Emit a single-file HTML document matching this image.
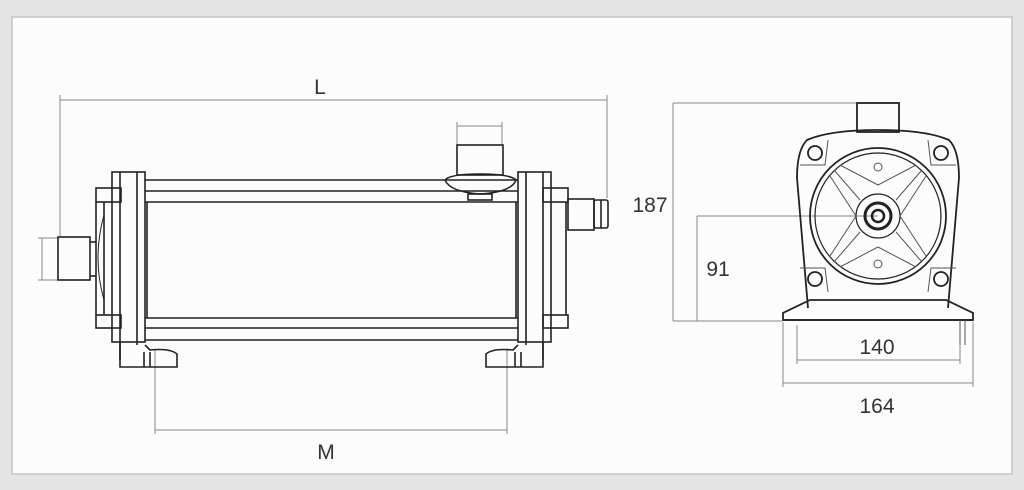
<!DOCTYPE html>
<html><head><meta charset="utf-8"><style>
html,body{margin:0;padding:0;background:#e4e4e4;}
svg{display:block}
text{font-family:"Liberation Sans",sans-serif;fill:#333;font-size:21px}
</style></head><body>
<svg width="1024" height="490" viewBox="0 0 1024 490" xmlns="http://www.w3.org/2000/svg">
<rect x="0" y="0" width="1024" height="490" fill="#e4e4e4"/>
<rect x="12" y="17" width="1000" height="457" fill="#fcfcfc" stroke="#c4c4c4" stroke-width="1.5"/>

<!-- dimension lines (thin) -->
<g stroke="#888" stroke-width="1" fill="none">
  <line x1="60" y1="100" x2="607" y2="100"/>
  <line x1="60" y1="95" x2="60" y2="236"/>
  <line x1="607" y1="95" x2="607" y2="198"/>
  <line x1="457" y1="126" x2="502" y2="126"/>
  <line x1="457" y1="122" x2="457" y2="145"/>
  <line x1="502" y1="122" x2="502" y2="145"/>
  <line x1="42" y1="238" x2="42" y2="280"/>
  <line x1="38" y1="238" x2="58" y2="238"/>
  <line x1="38" y1="280" x2="58" y2="280"/>
  <line x1="155" y1="430" x2="507" y2="430"/>
  <line x1="155" y1="350" x2="155" y2="434"/>
  <line x1="507" y1="350" x2="507" y2="434"/>
  <!-- right view dims -->
  <line x1="673" y1="103" x2="857" y2="103"/>
  <line x1="673" y1="103" x2="673" y2="321"/>
  <line x1="673" y1="321" x2="782" y2="321"/>
  <line x1="697" y1="216" x2="878" y2="216"/>
  <line x1="697" y1="216" x2="697" y2="321"/>
  <line x1="797" y1="325" x2="797" y2="364"/>
  <line x1="960" y1="325" x2="960" y2="364"/>
  <line x1="797" y1="360" x2="960" y2="360"/>
  <line x1="783" y1="322" x2="783" y2="387"/>
  <line x1="973" y1="322" x2="973" y2="387"/>
  <line x1="783" y1="383" x2="973" y2="383"/>
</g>

<!-- side view -->
<g stroke="#222" stroke-width="1.6" fill="none">
  <!-- tubes -->
  <line x1="145" y1="180" x2="518" y2="180"/>
  <line x1="145" y1="191" x2="518" y2="191"/>
  <line x1="145" y1="202" x2="518" y2="202"/>
  <line x1="145" y1="318" x2="518" y2="318"/>
  <line x1="145" y1="328" x2="518" y2="328"/>
  <line x1="145" y1="340" x2="518" y2="340"/>
  <line x1="147" y1="202" x2="147" y2="318"/>
  <line x1="516" y1="202" x2="516" y2="318"/>
  <!-- left flange -->
  <rect x="112" y="172" width="33" height="170"/>
  <line x1="120" y1="172" x2="120" y2="360"/>
  <line x1="137" y1="172" x2="137" y2="345"/>
  <rect x="96" y="188" width="25" height="14"/>
  <rect x="96" y="315" width="25" height="13"/>
  <path d="M96 202 L96 315 M104 202 L104 315"/>
  <path d="M104 215 Q92 258 104 300" stroke-width="1"/>
  <rect x="58" y="237" width="32" height="43"/>
  <line x1="90" y1="242" x2="96" y2="242"/>
  <line x1="90" y1="276" x2="96" y2="276"/>
  <!-- left foot -->
  <path d="M120 342 L120 367 L177 367 L177 354 Q170 348 150 350 L145 345"/>
  <line x1="144" y1="352" x2="144" y2="367"/>
  <line x1="150" y1="352" x2="150" y2="367"/>
  <!-- right flange -->
  <rect x="518" y="172" width="33" height="170"/>
  <line x1="526" y1="172" x2="526" y2="345"/>
  <line x1="543" y1="172" x2="543" y2="360"/>
  <rect x="543" y="188" width="25" height="14"/>
  <rect x="543" y="315" width="25" height="13"/>
  <line x1="566" y1="202" x2="566" y2="315"/>
  <rect x="568" y="199" width="26" height="31"/>
  <rect x="594" y="200" width="14" height="28" rx="2"/>
  <line x1="601" y1="200" x2="601" y2="228"/>
  <!-- right foot -->
  <path d="M543 342 L543 367 L486 367 L486 354 Q493 348 513 350 L518 345"/>
  <line x1="515" y1="352" x2="515" y2="367"/>
  <line x1="521" y1="352" x2="521" y2="367"/>
  <!-- top nozzle -->
  <rect x="457" y="145" width="46" height="30"/>
  <path d="M445 180 Q450 174 480 174 Q510 174 516 180 Q512 192 480 194 Q450 192 445 180 Z"/>
  <rect x="468" y="194" width="24" height="6"/>
</g>

<!-- end view -->
<g stroke="#222" stroke-width="1.8" fill="none">
  <rect x="857" y="103" width="42" height="29"/>
  <path d="M808 308 L797 178 Q797 150 807 140 Q830 130 878 130 Q926 130 949 140 Q959 150 959 178 L948 308"/>
  <path d="M783 320 L783 313 L810 300 L946 300 L973 313 L973 320 Z"/>
  <line x1="783" y1="320" x2="973" y2="320"/>
  <circle cx="878" cy="216" r="68"/>
  <circle cx="878" cy="216" r="63" stroke-width="1.2"/>
  <circle cx="878" cy="216" r="22" stroke-width="1.2"/>
  <circle cx="878" cy="216" r="13" stroke-width="3"/>
  <circle cx="878" cy="216" r="6" stroke-width="2.5"/>
  <circle cx="815" cy="153" r="7"/>
  <circle cx="941" cy="153" r="7"/>
  <circle cx="815" cy="279" r="7"/>
  <circle cx="941" cy="279" r="7"/>
  <g stroke-width="1" stroke="#555">
    <circle cx="878" cy="167" r="4"/>
    <circle cx="878" cy="264" r="4"/>
    <path d="M834 170 L860 200 M922 170 L896 200 M834 262 L860 232 M922 262 L896 232"/>
    <path d="M840 165 L878 185 L916 165 M840 267 L878 247 L916 267"/>
    <path d="M830 176 L856 216 L830 256 M926 176 L900 216 L926 256"/>
    <path d="M800 165 L825 165 L828 140 M956 165 L931 165 L928 140 M800 268 L825 268 L828 292 M956 268 L931 268 L928 292"/>
    <line x1="960" y1="320" x2="960" y2="345"/>
    <line x1="965" y1="320" x2="965" y2="345"/>
  </g>
</g>

<text x="320" y="94" text-anchor="middle">L</text>
<text x="326" y="459" text-anchor="middle">M</text>
<text x="650" y="212" text-anchor="middle">187</text>
<text x="718" y="276" text-anchor="middle">91</text>
<text x="877" y="354" text-anchor="middle">140</text>
<text x="877" y="413" text-anchor="middle">164</text>
</svg>
</body></html>
